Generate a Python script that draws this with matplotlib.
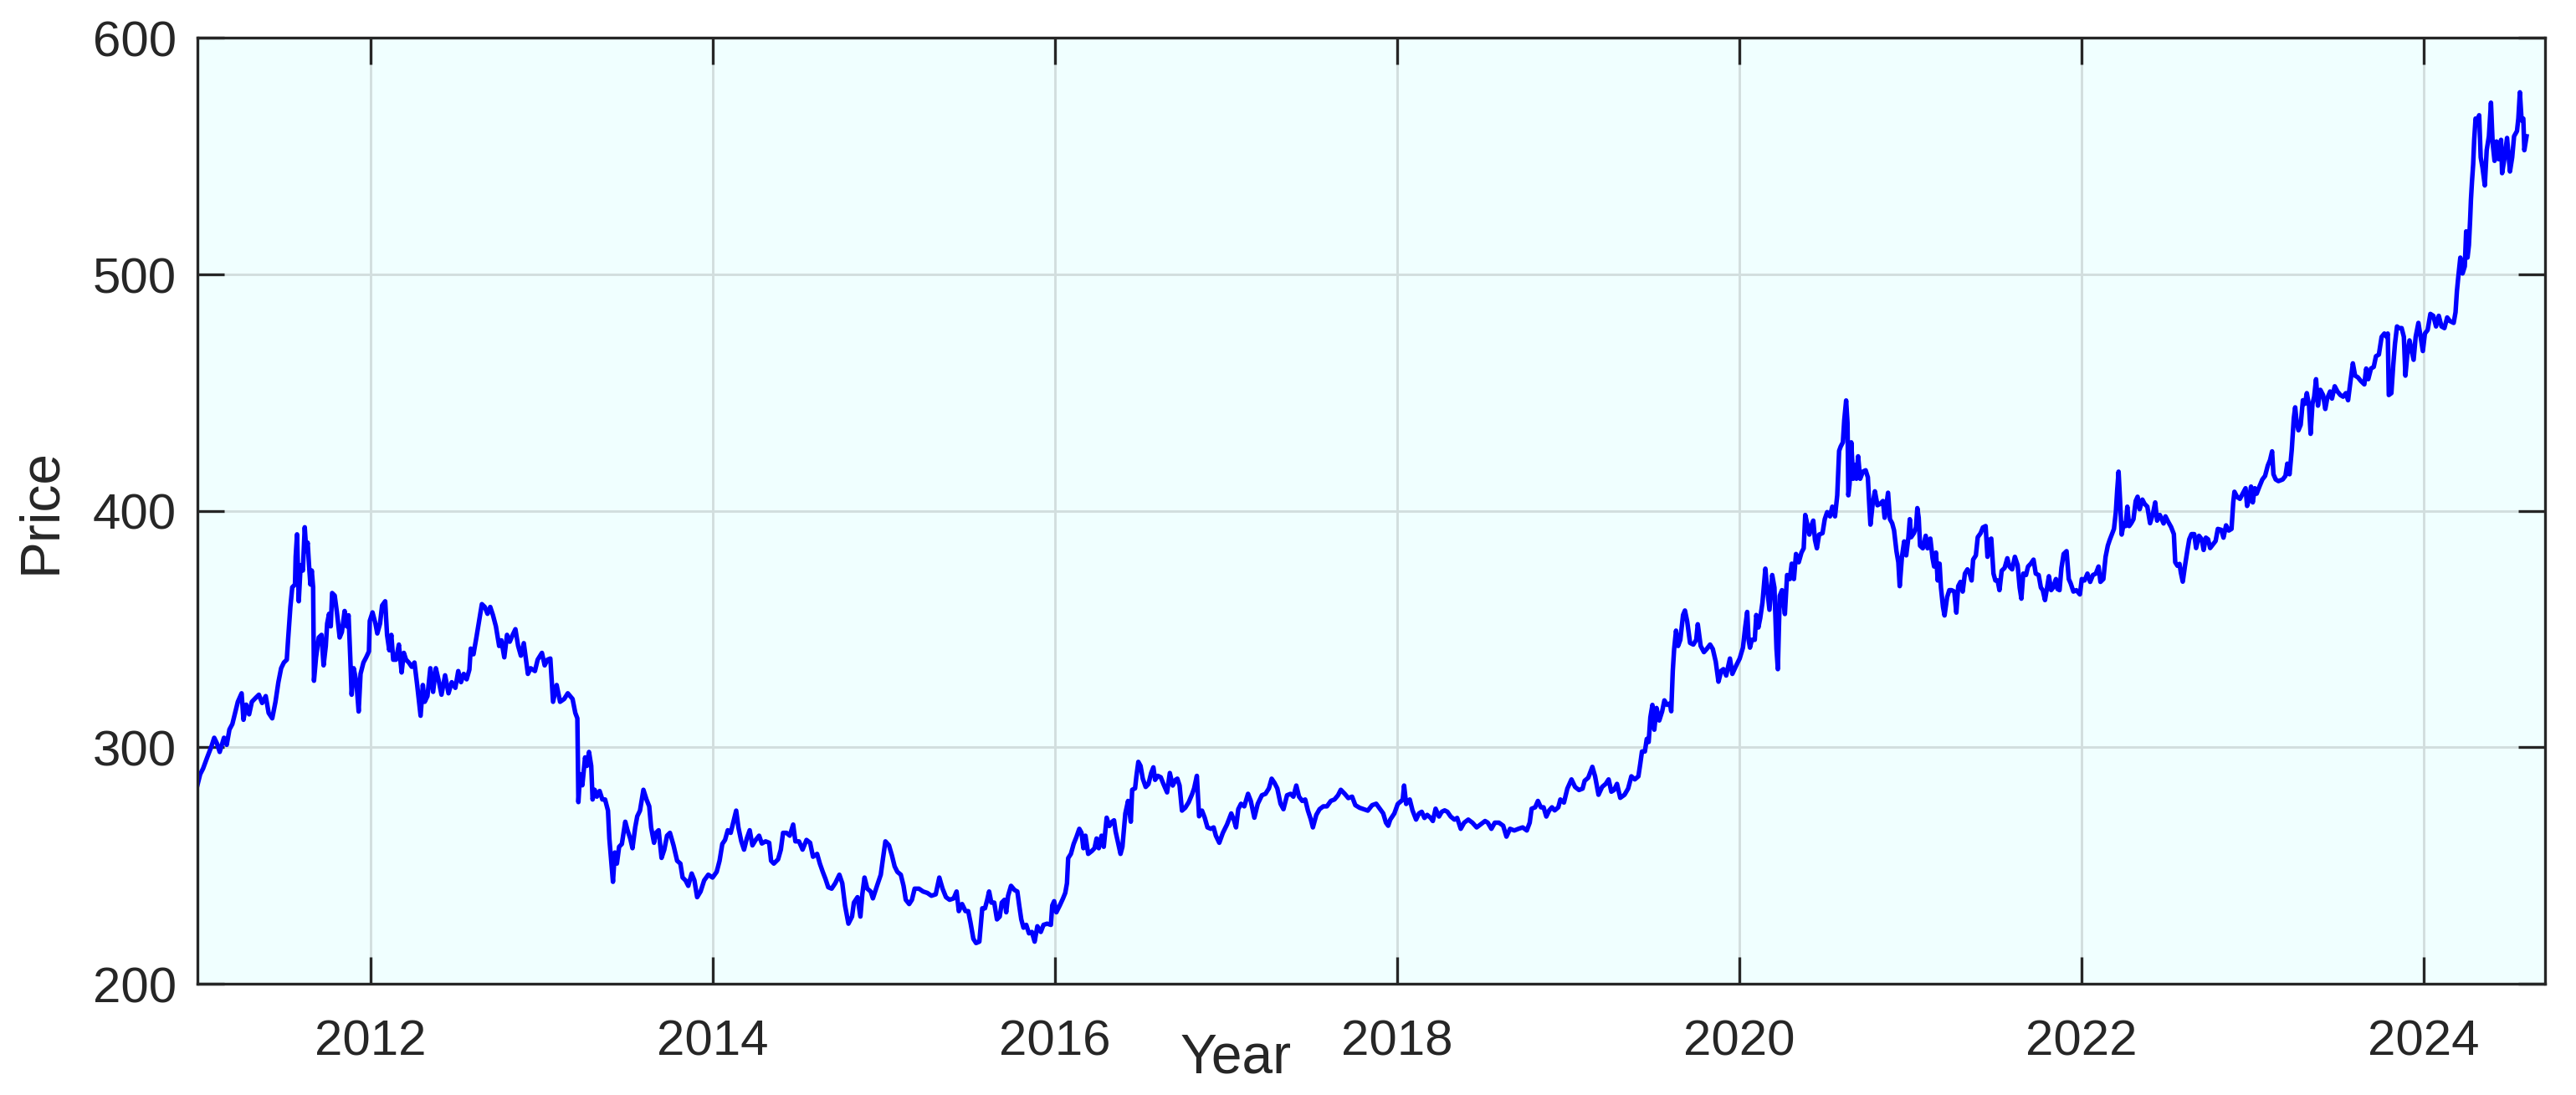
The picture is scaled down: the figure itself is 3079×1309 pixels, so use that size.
import numpy as np
import matplotlib
matplotlib.use('Agg')
import matplotlib.pyplot as plt

plt.rcParams['font.family'] = ['Liberation Sans', 'DejaVu Sans']

# price series, split by period (decimal year, price)
t_2011 = [2010.990, 2011.006, 2011.023, 2011.047, 2011.072, 2011.088, 2011.104, 2011.120, 2011.145, 2011.161,
          2011.177, 2011.194, 2011.210, 2011.226, 2011.248, 2011.259, 2011.275, 2011.292, 2011.308, 2011.332,
          2011.349, 2011.368, 2011.389, 2011.406, 2011.427, 2011.446, 2011.463, 2011.479, 2011.495, 2011.512,
          2011.520, 2011.533, 2011.544, 2011.560, 2011.564, 2011.572, 2011.582, 2011.593, 2011.606, 2011.617,
          2011.626, 2011.634, 2011.642, 2011.650, 2011.658, 2011.666, 2011.671, 2011.683, 2011.699, 2011.715,
          2011.727, 2011.740, 2011.748, 2011.759, 2011.769, 2011.777, 2011.792, 2011.805, 2011.821, 2011.834,
          2011.850, 2011.862, 2011.873, 2011.883, 2011.891, 2011.903, 2011.919, 2011.932, 2011.943, 2011.960,
          2011.976, 2011.992, 2011.997, 2012.013, 2012.030, 2012.041, 2012.057, 2012.069, 2012.087, 2012.098,
          2012.111, 2012.123, 2012.134, 2012.150, 2012.167, 2012.183, 2012.196, 2012.209, 2012.225, 2012.242,
          2012.258, 2012.274, 2012.294, 2012.307, 2012.318, 2012.334, 2012.351, 2012.367, 2012.383, 2012.400,
          2012.416, 2012.437, 2012.457, 2012.476, 2012.497, 2012.514, 2012.530, 2012.546, 2012.563, 2012.579,
          2012.587, 2012.603, 2012.620, 2012.636, 2012.652, 2012.669, 2012.685, 2012.701, 2012.717, 2012.734,
          2012.753, 2012.766, 2012.783, 2012.799, 2012.815, 2012.832, 2012.848, 2012.864, 2012.880, 2012.897,
          2012.921, 2012.937, 2012.962, 2012.978, 2013.003, 2013.019, 2013.035, 2013.052, 2013.068, 2013.089,
          2013.109, 2013.133, 2013.154, 2013.182, 2013.198, 2013.210, 2013.216, 2013.226, 2013.239, 2013.255]
p_2011 = [284.0, 288.6, 291.0, 295.7, 300.4, 304.0, 301.6, 298.0, 304.0, 301.0,
          307.5, 309.8, 314.5, 319.2, 322.8, 311.6, 318.0, 313.9, 319.2, 321.0,
          322.2, 318.7, 321.6, 314.5, 312.2, 319.2, 327.5, 333.4, 335.8, 337.0,
          345.8, 359.3, 367.6, 368.8, 380.6, 390.0, 361.7, 377.0, 374.7, 393.0,
          383.0, 386.5, 377.0, 368.8, 374.7, 367.6, 328.1, 338.0, 346.4, 347.5,
          334.6, 342.8, 352.3, 356.4, 351.1, 365.2, 364.1, 357.0, 346.4, 348.7,
          357.6, 351.1, 355.8, 338.0, 322.2, 333.4, 327.5, 315.1, 331.0, 335.8,
          338.0, 340.5, 353.4, 357.0, 352.3, 348.1, 352.3, 359.9, 361.7, 347.5,
          341.0, 347.5, 337.0, 337.0, 343.4, 331.6, 339.9, 337.0, 335.8, 334.0,
          335.8, 326.3, 313.3, 326.3, 319.2, 321.6, 333.4, 323.4, 333.4, 328.1,
          322.2, 330.4, 322.8, 327.5, 325.1, 332.2, 327.5, 331.0, 328.7, 332.8,
          341.7, 339.3, 346.4, 353.4, 360.5, 359.3, 356.4, 359.3, 355.8, 351.1,
          342.8, 345.2, 338.0, 347.5, 344.6, 347.5, 349.9, 342.8, 338.7, 344.0,
          331.0, 333.4, 332.2, 337.0, 339.9, 334.6, 337.0, 337.5, 319.2, 326.3,
          319.2, 320.4, 322.8, 320.4, 314.5, 312.2, 276.8, 288.6, 283.9, 295.7]

t_2013 = [2013.266, 2013.278, 2013.291, 2013.299, 2013.311, 2013.324, 2013.340, 2013.356, 2013.372, 2013.389,
          2013.397, 2013.408, 2013.418, 2013.429, 2013.441, 2013.454, 2013.470, 2013.490, 2013.503, 2013.519,
          2013.532, 2013.548, 2013.560, 2013.576, 2013.596, 2013.614, 2013.630, 2013.641, 2013.658, 2013.669,
          2013.685, 2013.702, 2013.718, 2013.734, 2013.751, 2013.772, 2013.793, 2013.812, 2013.825, 2013.842,
          2013.858, 2013.878, 2013.894, 2013.910, 2013.930, 2013.951, 2013.975, 2014.000, 2014.024, 2014.041,
          2014.057, 2014.073, 2014.089, 2014.106, 2014.122, 2014.138, 2014.151, 2014.168, 2014.184, 2014.200,
          2014.217, 2014.233, 2014.252, 2014.272, 2014.288, 2014.310, 2014.331, 2014.342, 2014.358, 2014.383,
          2014.399, 2014.412, 2014.432, 2014.451, 2014.471, 2014.484, 2014.505, 2014.526, 2014.549, 2014.570,
          2014.587, 2014.611, 2014.627, 2014.644, 2014.660, 2014.676, 2014.696, 2014.717, 2014.741, 2014.758,
          2014.774, 2014.794, 2014.815, 2014.826, 2014.847, 2014.864, 2014.875, 2014.888, 2014.904, 2014.924,
          2014.937, 2014.961, 2014.983, 2014.994, 2015.010, 2015.031, 2015.048, 2015.064, 2015.080, 2015.100,
          2015.116, 2015.129, 2015.149, 2015.165, 2015.181, 2015.206, 2015.230, 2015.255, 2015.279, 2015.304,
          2015.325, 2015.344, 2015.364, 2015.385, 2015.409, 2015.426, 2015.439, 2015.458, 2015.478, 2015.494,
          2015.507, 2015.524, 2015.540, 2015.559]
p_2013 = [292.1, 298.0, 292.1, 277.9, 282.0, 279.1, 281.5, 277.9, 277.9, 273.2,
          261.4, 252.0, 243.1, 255.5, 250.8, 257.9, 259.1, 268.5, 264.9, 261.4,
          257.3, 266.1, 270.8, 273.2, 282.0, 277.9, 275.0, 266.1, 259.6, 263.8,
          264.9, 253.2, 256.7, 262.6, 263.8, 258.5, 252.0, 250.8, 244.9, 243.7,
          241.4, 246.6, 243.7, 236.6, 239.0, 243.7, 246.1, 244.9, 247.3, 252.0,
          259.1, 260.8, 264.9, 263.8, 268.5, 273.2, 266.1, 260.2, 256.7, 261.4,
          264.9, 258.5, 260.8, 262.6, 259.3, 260.2, 259.6, 252.0, 250.8, 252.6,
          256.7, 263.8, 263.8, 262.6, 267.3, 260.2, 260.2, 256.7, 260.8, 259.6,
          253.7, 254.9, 250.8, 247.3, 244.3, 240.8, 240.2, 242.5, 246.1, 242.5,
          233.1, 225.4, 228.4, 234.3, 236.6, 228.4, 237.8, 244.9, 240.2, 239.0,
          236.1, 241.4, 246.1, 252.0, 260.2, 258.5, 254.3, 249.6, 247.3, 246.1,
          241.4, 235.5, 233.7, 235.5, 240.2, 240.2, 239.0, 238.4, 237.2, 237.8,
          244.9, 240.2, 236.6, 235.5, 236.1, 239.0, 230.7, 233.7, 230.7, 230.7,
          226.0, 219.0, 217.2, 217.8]

t_2015 = [2015.576, 2015.592, 2015.605, 2015.616, 2015.629, 2015.646, 2015.662, 2015.678, 2015.690, 2015.706,
          2015.716, 2015.727, 2015.744, 2015.765, 2015.781, 2015.792, 2015.804, 2015.817, 2015.833, 2015.849,
          2015.866, 2015.882, 2015.898, 2015.918, 2015.934, 2015.955, 2015.977, 2015.985, 2015.996, 2016.009,
          2016.029, 2016.048, 2016.061, 2016.071, 2016.078, 2016.094, 2016.110, 2016.126, 2016.143, 2016.156,
          2016.167, 2016.179, 2016.195, 2016.216, 2016.232, 2016.244, 2016.257, 2016.273, 2016.286, 2016.303,
          2016.319, 2016.335, 2016.346, 2016.355, 2016.371, 2016.384, 2016.395, 2016.412, 2016.428, 2016.444,
          2016.452, 2016.469, 2016.477, 2016.488, 2016.501, 2016.514, 2016.531, 2016.547, 2016.563, 2016.576,
          2016.586, 2016.602, 2016.619, 2016.635, 2016.656, 2016.672, 2016.689, 2016.705, 2016.716, 2016.729,
          2016.743, 2016.762, 2016.782, 2016.803, 2016.814, 2016.830, 2016.843, 2016.860, 2016.876, 2016.892,
          2016.912, 2016.928, 2016.941, 2016.961, 2016.982, 2017.006, 2017.031, 2017.047, 2017.059, 2017.072,
          2017.088, 2017.107, 2017.129, 2017.145, 2017.166, 2017.186, 2017.210, 2017.231, 2017.251, 2017.267,
          2017.283, 2017.300, 2017.319, 2017.336, 2017.357, 2017.378, 2017.394, 2017.411, 2017.427, 2017.446,
          2017.463, 2017.479, 2017.495, 2017.508, 2017.528, 2017.547, 2017.569, 2017.590, 2017.613, 2017.634,
          2017.655, 2017.671, 2017.694, 2017.715, 2017.737, 2017.756, 2017.781, 2017.805, 2017.829, 2017.854,
          2017.878]
p_2015 = [231.9, 231.9, 235.5, 239.0, 234.3, 234.3, 227.2, 228.4, 234.3, 235.5,
          230.2, 237.2, 241.4, 239.6, 239.0, 233.1, 227.2, 223.7, 224.9, 221.3,
          221.9, 217.8, 224.3, 221.9, 224.9, 225.4, 224.9, 233.1, 234.9, 230.2,
          233.1, 236.1, 238.4, 242.5, 253.1, 254.9, 259.1, 262.0, 265.5, 263.8,
          257.3, 262.6, 254.9, 256.1, 257.3, 261.4, 257.3, 262.6, 257.9, 270.2,
          266.7, 268.5, 269.1, 264.4, 259.1, 254.9, 257.9, 272.0, 277.3, 268.5,
          282.0, 282.6, 287.9, 293.8, 292.1, 286.7, 283.2, 284.4, 289.1, 291.5,
          286.2, 287.9, 287.3, 284.4, 280.9, 289.1, 283.8, 286.2, 286.7, 283.8,
          273.2, 274.4, 276.7, 280.3, 282.6, 287.9, 270.8, 273.2, 270.2, 266.1,
          265.5, 266.1, 262.6, 259.6, 263.8, 267.3, 272.0, 269.1, 266.1, 273.8,
          276.1, 275.0, 280.3, 277.3, 270.2, 276.1, 279.7, 280.3, 282.6, 286.7,
          285.0, 282.6, 276.1, 273.8, 279.7, 280.3, 279.1, 283.8, 279.1, 277.3,
          277.9, 273.2, 269.7, 266.1, 271.4, 273.8, 275.0, 275.0, 277.3, 277.9,
          279.7, 282.0, 280.3, 278.5, 279.1, 275.5, 274.4, 273.8, 273.2, 275.5,
          276.1]

t_2018 = [2017.919, 2017.935, 2017.948, 2017.960, 2017.984, 2018.004, 2018.025, 2018.033, 2018.041, 2018.053,
          2018.074, 2018.090, 2018.111, 2018.128, 2018.144, 2018.160, 2018.176, 2018.196, 2018.209, 2018.225,
          2018.245, 2018.261, 2018.278, 2018.294, 2018.313, 2018.335, 2018.351, 2018.372, 2018.392, 2018.416,
          2018.440, 2018.465, 2018.489, 2018.514, 2018.530, 2018.551, 2018.571, 2018.595, 2018.620, 2018.639,
          2018.660, 2018.685, 2018.709, 2018.734, 2018.758, 2018.775, 2018.786, 2018.807, 2018.823, 2018.840,
          2018.856, 2018.872, 2018.889, 2018.905, 2018.921, 2018.942, 2018.954, 2018.975, 2018.995, 2019.019,
          2019.040, 2019.063, 2019.084, 2019.096, 2019.117, 2019.141, 2019.157, 2019.177, 2019.198, 2019.219,
          2019.236, 2019.252, 2019.268, 2019.285, 2019.304, 2019.329, 2019.350, 2019.369, 2019.389, 2019.410,
          2019.421, 2019.431, 2019.448, 2019.459, 2019.470, 2019.480, 2019.492, 2019.503, 2019.516, 2019.532,
          2019.549, 2019.562, 2019.578, 2019.594, 2019.602, 2019.611, 2019.619, 2019.630, 2019.642, 2019.655,
          2019.671, 2019.682, 2019.695, 2019.712, 2019.731, 2019.748, 2019.757, 2019.774, 2019.793, 2019.809,
          2019.829, 2019.845, 2019.862, 2019.878, 2019.894, 2019.907, 2019.923, 2019.945, 2019.959, 2019.980,
          2020.002, 2020.021, 2020.034, 2020.046, 2020.054, 2020.062, 2020.073, 2020.090, 2020.099, 2020.111,
          2020.122, 2020.135, 2020.143, 2020.152]
p_2018 = [272.0, 268.1, 266.8, 269.4, 272.0, 276.0, 277.3, 277.9, 283.8, 276.0,
          277.9, 273.3, 269.4, 272.0, 272.7, 270.1, 271.4, 270.1, 268.8, 274.0,
          270.7, 272.7, 273.3, 272.7, 270.7, 269.4, 270.1, 265.5, 268.1, 269.4,
          268.1, 266.1, 267.4, 268.8, 268.1, 265.5, 268.1, 268.1, 266.8, 262.2,
          265.5, 264.8, 265.5, 266.1, 264.8, 268.1, 274.0, 274.6, 277.3, 274.6,
          274.6, 270.7, 273.3, 274.6, 273.3, 274.6, 277.9, 276.6, 282.5, 286.4,
          283.2, 281.9, 282.5, 285.8, 287.1, 291.7, 287.7, 279.9, 283.2, 284.5,
          286.4, 281.2, 281.9, 284.5, 278.6, 279.9, 282.5, 287.7, 286.4, 287.7,
          293.0, 298.2, 298.2, 303.5, 302.2, 312.6, 317.9, 307.4, 316.6, 311.3,
          315.2, 319.8, 317.9, 318.5, 315.2, 332.3, 341.5, 349.3, 342.8, 345.4,
          355.9, 357.8, 353.3, 344.1, 343.4, 345.4, 352.0, 342.8, 340.2, 341.5,
          343.4, 341.5, 336.2, 327.7, 332.3, 333.0, 330.3, 337.5, 331.0, 334.3,
          337.5, 342.1, 350.6, 357.2, 345.4, 342.1, 345.4, 345.4, 355.9, 350.6,
          354.6, 361.1, 367.7, 375.5]

t_2020 = [2020.160, 2020.176, 2020.192, 2020.205, 2020.217, 2020.225, 2020.236, 2020.249, 2020.266, 2020.279,
          2020.295, 2020.306, 2020.319, 2020.331, 2020.347, 2020.363, 2020.376, 2020.385, 2020.396, 2020.409,
          2020.420, 2020.432, 2020.442, 2020.453, 2020.466, 2020.486, 2020.499, 2020.513, 2020.530, 2020.543,
          2020.559, 2020.572, 2020.583, 2020.592, 2020.605, 2020.613, 2020.624, 2020.632, 2020.637, 2020.644,
          2020.654, 2020.665, 2020.673, 2020.684, 2020.694, 2020.706, 2020.722, 2020.738, 2020.751, 2020.758,
          2020.766, 2020.779, 2020.792, 2020.807, 2020.823, 2020.839, 2020.849, 2020.860, 2020.869, 2020.880,
          2020.893, 2020.904, 2020.918, 2020.929, 2020.937, 2020.950, 2020.963, 2020.975, 2020.988, 2020.996,
          2021.004, 2021.020, 2021.032, 2021.040, 2021.048, 2021.056, 2021.072, 2021.089, 2021.100, 2021.116,
          2021.129, 2021.138, 2021.149, 2021.159, 2021.170, 2021.178, 2021.190, 2021.199, 2021.214, 2021.227,
          2021.240, 2021.256, 2021.268, 2021.279, 2021.292, 2021.305, 2021.318, 2021.333, 2021.346, 2021.357,
          2021.366, 2021.382, 2021.393, 2021.410, 2021.423, 2021.439, 2021.450, 2021.460, 2021.472, 2021.485,
          2021.496, 2021.509, 2021.520, 2021.533, 2021.550, 2021.566, 2021.578, 2021.594, 2021.610, 2021.626,
          2021.638, 2021.648, 2021.659, 2021.675, 2021.687, 2021.703, 2021.719, 2021.732, 2021.749, 2021.762,
          2021.773, 2021.786, 2021.797, 2021.809, 2021.822, 2021.833, 2021.850, 2021.859, 2021.871, 2021.882,
          2021.895, 2021.912, 2021.925, 2021.936, 2021.952, 2021.969, 2021.990, 2022.001, 2022.017, 2022.034,
          2022.050, 2022.066, 2022.083, 2022.099, 2022.110, 2022.127, 2022.140, 2022.153, 2022.164, 2022.176,
          2022.189, 2022.200, 2022.208, 2022.216, 2022.224, 2022.234, 2022.246, 2022.257, 2022.267, 2022.278,
          2022.290, 2022.303, 2022.316, 2022.327, 2022.339, 2022.355, 2022.368, 2022.384, 2022.400, 2022.417,
          2022.430, 2022.441, 2022.457]
p_2020 = [368.7, 358.1, 372.8, 367.5, 341.6, 333.0, 364.0, 366.4, 356.3, 372.8,
          371.1, 377.6, 371.1, 381.7, 378.2, 382.3, 384.1, 398.2, 394.7, 389.9,
          393.5, 395.8, 387.6, 384.1, 389.9, 390.5, 396.4, 399.4, 397.6, 401.7,
          397.6, 406.5, 425.3, 427.1, 428.9, 438.3, 446.6, 437.1, 406.5, 411.2,
          428.9, 413.5, 419.4, 413.5, 423.0, 413.5, 416.5, 417.1, 414.1, 404.1,
          394.1, 402.9, 408.2, 402.3, 402.9, 404.1, 397.0, 402.9, 407.6, 396.4,
          394.7, 391.7, 382.9, 378.2, 368.1, 380.5, 387.0, 381.1, 388.8, 396.4,
          388.8, 390.5, 392.9, 401.1, 397.0, 385.2, 384.1, 389.4, 384.1, 388.2,
          379.9, 376.4, 382.3, 370.5, 377.6, 367.5, 359.3, 355.7, 363.4, 366.4,
          366.4, 365.8, 356.9, 368.1, 369.9, 365.8, 373.4, 375.2, 373.4, 370.5,
          379.3, 381.1, 388.8, 390.5, 392.9, 393.5, 380.5, 387.6, 388.2, 373.4,
          370.5, 370.5, 366.4, 374.6, 375.8, 379.9, 376.4, 375.2, 380.5, 377.0,
          367.5, 362.8, 373.4, 372.8, 376.4, 377.6, 379.3, 373.4, 372.8, 367.5,
          366.4, 362.2, 366.9, 372.3, 366.4, 367.5, 371.1, 366.9, 366.4, 375.8,
          381.7, 382.9, 371.1, 369.3, 365.8, 366.4, 364.6, 371.1, 370.5, 373.4,
          369.9, 372.8, 373.4, 376.4, 369.9, 371.1, 380.5, 385.2, 387.6, 389.9,
          392.3, 399.4, 408.8, 416.5, 405.3, 389.9, 394.7, 393.5, 401.7, 393.5,
          394.7, 396.4, 404.1, 405.9, 400.6, 404.7, 402.9, 401.7, 394.7, 398.8,
          403.5, 395.8, 398.2]

t_2022 = [2022.479, 2022.490, 2022.506, 2022.523, 2022.539, 2022.547, 2022.560, 2022.572, 2022.580, 2022.591,
          2022.604, 2022.617, 2022.629, 2022.642, 2022.658, 2022.669, 2022.686, 2022.702, 2022.713, 2022.726,
          2022.739, 2022.751, 2022.767, 2022.783, 2022.796, 2022.816, 2022.829, 2022.844, 2022.860, 2022.876,
          2022.886, 2022.893, 2022.909, 2022.925, 2022.941, 2022.958, 2022.967, 2022.979, 2022.990, 2023.000,
          2023.012, 2023.023, 2023.039, 2023.056, 2023.072, 2023.088, 2023.101, 2023.113, 2023.121, 2023.134,
          2023.150, 2023.175, 2023.191, 2023.202, 2023.215, 2023.228, 2023.240, 2023.248, 2023.256, 2023.267,
          2023.280, 2023.293, 2023.305, 2023.316, 2023.329, 2023.338, 2023.349, 2023.359, 2023.370, 2023.381,
          2023.395, 2023.411, 2023.424, 2023.435, 2023.452, 2023.463, 2023.479, 2023.495, 2023.512, 2023.528,
          2023.544, 2023.557, 2023.570, 2023.585, 2023.598, 2023.614, 2023.631, 2023.652, 2023.663, 2023.675,
          2023.691, 2023.707, 2023.720, 2023.737, 2023.753, 2023.769, 2023.782, 2023.789, 2023.795, 2023.810,
          2023.821, 2023.831, 2023.843, 2023.854, 2023.870, 2023.883, 2023.892, 2023.903, 2023.916, 2023.929,
          2023.940, 2023.952, 2023.968, 2023.981, 2023.994, 2024.006, 2024.022, 2024.038, 2024.055, 2024.071,
          2024.087, 2024.103, 2024.120, 2024.136, 2024.152, 2024.174, 2024.185, 2024.193, 2024.201, 2024.213,
          2024.226, 2024.239, 2024.247, 2024.255, 2024.263, 2024.270, 2024.275, 2024.281, 2024.288, 2024.294,
          2024.302, 2024.312, 2024.323, 2024.332, 2024.343, 2024.356, 2024.367, 2024.380, 2024.392, 2024.402,
          2024.413, 2024.424, 2024.437, 2024.451, 2024.457, 2024.470, 2024.486, 2024.503, 2024.516, 2024.527,
          2024.544, 2024.552, 2024.561, 2024.571, 2024.581, 2024.587, 2024.600]
p_2022 = [394.6, 397.6, 395.3, 393.1, 390.1, 378.2, 376.7, 377.5, 373.8, 370.0,
          376.7, 382.7, 387.9, 390.1, 390.1, 384.2, 389.4, 387.9, 383.4, 388.6,
          387.9, 384.2, 385.7, 387.2, 392.3, 391.9, 388.6, 393.8, 391.6, 392.3,
          403.5, 408.0, 405.8, 405.0, 407.2, 409.5, 402.0, 405.0, 410.2, 403.5,
          409.5, 407.2, 410.2, 413.2, 414.7, 419.1, 421.4, 425.1, 415.4, 413.2,
          412.5, 413.2, 414.7, 419.9, 415.4, 425.8, 439.2, 443.7, 437.8, 434.0,
          436.3, 446.7, 445.2, 449.7, 444.4, 432.5, 445.2, 448.2, 455.6, 444.4,
          451.1, 448.9, 443.0, 447.4, 450.4, 447.4, 452.6, 450.4, 448.9, 448.2,
          449.7, 446.7, 454.1, 462.3, 457.1, 456.4, 454.9, 453.4, 460.1, 455.6,
          460.1, 460.8, 465.3, 466.0, 473.5, 474.9, 473.5, 474.9, 448.9, 449.7,
          461.6, 470.5, 477.9, 477.2, 477.2, 473.5, 457.1, 466.0, 472.0, 467.5,
          463.8, 473.5, 479.4, 473.5, 467.5, 474.9, 476.4, 483.2, 482.4, 477.9,
          482.4, 477.9, 477.2, 481.7, 480.2, 479.4, 483.9, 492.8, 498.8, 507.0,
          500.3, 503.3, 518.1, 507.0, 512.2, 522.6, 531.5, 539.0, 546.4, 556.8,
          565.8, 564.3, 567.2, 549.4, 544.9, 537.5, 552.4, 558.3, 572.5, 555.3,
          547.9, 556.1, 548.6, 556.8, 542.7, 548.6, 557.6, 543.4, 549.4, 558.3,
          560.5, 565.8, 576.9, 565.0, 565.8, 552.4, 558.3]

xticks = [2012, 2014, 2016, 2018, 2020, 2022, 2024]
yticks = [200, 300, 400, 500, 600]

years = np.concatenate([t_2011, t_2013, t_2015, t_2018, t_2020, t_2022])
price = np.concatenate([p_2011, p_2013, p_2015, p_2018, p_2020, p_2022])

W, H = 3079, 1310
fig = plt.figure(figsize=(W / 300, H / 300), dpi=300)
ax = fig.add_axes([236 / W, 1 - 1177 / H, (3042 - 236) / W, (1177 - 46) / H])
ax.set_facecolor('#F0FFFF')

ax.plot(years, price, color='#0000FF', lw=1.3)

ax.set_xlim(2010.990, 2024.708)
ax.set_ylim(200, 600)
ax.set_xticks(xticks)
ax.set_yticks(yticks)
ax.grid(True, color='#D2DEDE', lw=0.7)
ax.set_axisbelow(True)

ax.tick_params(direction='in', length=7.7, width=0.8, top=True, right=True,
               colors='#262626', labelsize=14.4)
ax.tick_params(axis='x', pad=10)
ax.tick_params(axis='y', pad=6)
for s in ax.spines.values():
    s.set_color('#262626')
    s.set_linewidth(0.8)

ax.set_xlabel('Year', fontsize=15.8, color='#262626')
ax.xaxis.set_label_coords(0.4423, -0.0937)
ax.xaxis.label.set_va('baseline')
ax.set_ylabel('Price', fontsize=15.8, color='#262626')
ax.yaxis.set_label_coords(-0.0666, 0.5)
ax.yaxis.label.set_va('center')

fig.savefig('out.png', dpi=300)
